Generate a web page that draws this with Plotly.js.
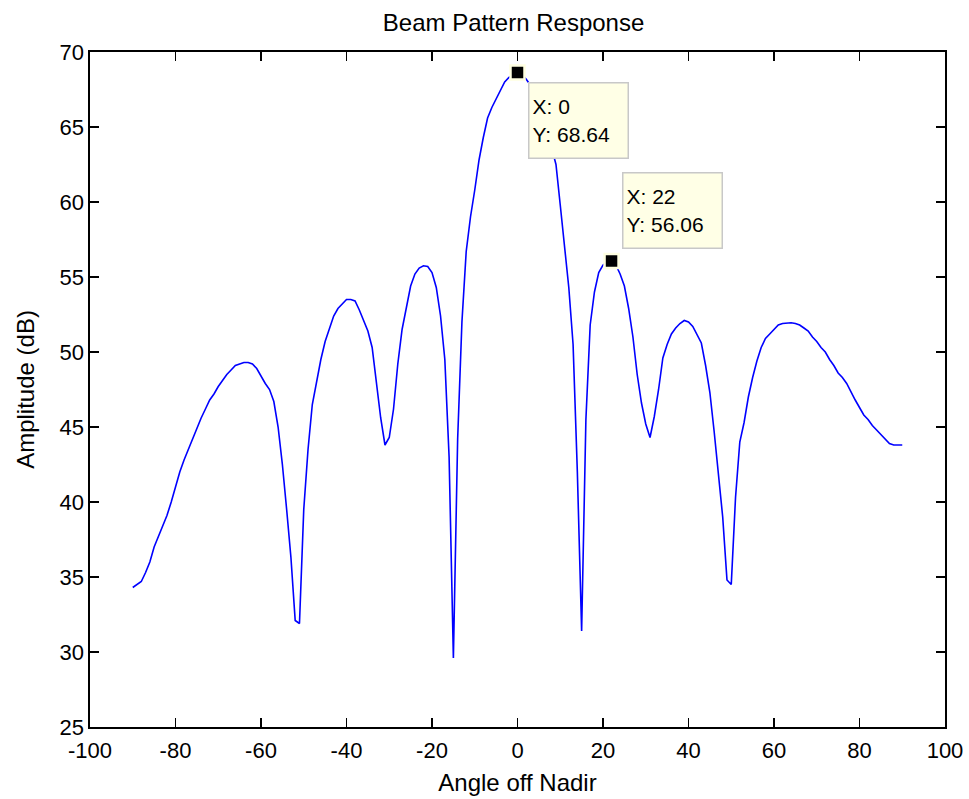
<!DOCTYPE html>
<html>
<head>
<meta charset="utf-8">
<script src="https://cdn.plot.ly/plotly-3.0.1.min.js"></script>
<style>html,body{margin:0;padding:0;background:#fff;}#chart{width:969px;height:799px;}</style>
</head>
<body>
<div id="chart"></div>
<script>
// Angle off nadir (degrees), sampled every degree
var angles = [];
for (var a = -90; a <= 90; a++) angles.push(a);

// Amplitude (dB), one value per degree from -90 to 90
var amplitude = [
  34.3, 34.5, 34.7, 35.3, 36.0, 37.0, 37.7, 38.4, 39.1, 40.0,   // -90..-81
  41.0, 42.0, 42.8, 43.5, 44.3, 45.0, 45.6, 46.2, 46.8, 47.2,   // -80..-71
  47.7, 48.1, 48.5, 48.8, 49.1, 49.2, 49.3, 49.3, 49.2, 48.9,   // -70..-61
  48.4, 47.9, 47.5, 46.7, 45.0, 42.5, 39.5, 36.3, 32.1, 31.9,   // -60..-51
  39.5, 43.5, 46.5, 48.0, 49.5, 50.7, 51.5, 52.4, 52.9, 53.2,   // -50..-41
  53.5, 53.5, 53.4, 52.8, 52.1, 51.4, 50.3, 48.0, 45.6, 43.8,   // -40..-31
  44.3, 46.2, 49.2, 51.5, 53.0, 54.4, 55.2, 55.6, 55.75, 55.7,  // -30..-21
  55.3, 54.3, 52.4, 49.5, 43.0, 29.6, 44.2, 52.0, 56.7, 59.0,   // -20..-11
  60.8, 62.8, 64.3, 65.6, 66.3, 66.9, 67.4, 68.0, 68.3, 68.5,   // -10..-1
  68.64,                                                        // 0
  68.5, 68.2, 67.8, 67.2, 66.5, 65.6, 64.7, 63.6, 62.5, 59.8,   // 1..10
  57.0, 54.3, 50.5, 42.0, 31.4, 45.5, 51.8, 54.0, 55.3, 55.8,   // 11..20
  56.0, 56.06, 55.8, 55.2, 54.4, 52.9, 51.0, 48.5, 46.6, 45.2,  // 21..30
  44.3, 45.7, 47.5, 49.6, 50.5, 51.2, 51.6, 51.9, 52.1, 52.0,   // 31..40
  51.7, 51.2, 50.6, 49.1, 47.3, 44.7, 41.8, 39.0, 34.8, 34.5,   // 41..50
  40.3, 44.0, 45.3, 47.0, 48.3, 49.4, 50.3, 50.9, 51.2, 51.5,   // 51..60
  51.8, 51.9, 51.95, 51.95, 51.9, 51.8, 51.6, 51.4, 51.0, 50.7, // 61..70
  50.3, 50.0, 49.5, 49.1, 48.6, 48.3, 47.9, 47.3, 46.8, 46.3,   // 71..80
  45.8, 45.5, 45.1, 44.8, 44.5, 44.2, 43.9, 43.8, 43.8, 43.8    // 81..90
];

// Axis ticks (labels use a plain hyphen as in the reference)
var xTickVals = [-100, -80, -60, -40, -20, 0, 20, 40, 60, 80, 100];
var xTickText = ['-100', '-80', '-60', '-40', '-20', '0', '20', '40', '60', '80', '100'];
var yTickVals = [25, 30, 35, 40, 45, 50, 55, 60, 65, 70];
var yTickText = ['25', '30', '35', '40', '45', '50', '55', '60', '65', '70'];

// Data tips
var tipX = [0, 22];
var tipY = [68.64, 56.06];
var tipText = ['X: 0<br>Y: 68.64', 'X: 22<br>Y: 56.06'];

var font = 'Liberation Sans, Arial, sans-serif';

var traces = [
  {
    x: angles, y: amplitude, type: 'scatter', mode: 'lines',
    line: {color: '#0000FF', width: 1.6}, hoverinfo: 'skip', showlegend: false
  },
  {
    x: tipX, y: tipY, type: 'scatter', mode: 'markers',
    marker: {symbol: 'square', size: 14, color: '#000000', line: {color: '#FFFFE1', width: 2.5}},
    hoverinfo: 'skip', showlegend: false
  }
];

var annotations = [
  {
    x: tipX[0], y: tipY[0], xref: 'x', yref: 'y', text: tipText[0], showarrow: false,
    xanchor: 'left', yanchor: 'top', xshift: 10, yshift: -10, align: 'left',
    width: 92, height: 68, valign: 'middle',
    bgcolor: '#FFFFE6', bordercolor: '#C8C8C8', borderwidth: 1.5, borderpad: 3,
    font: {family: font, size: 21, color: '#000'}
  },
  {
    x: tipX[1], y: tipY[1], xref: 'x', yref: 'y', text: tipText[1], showarrow: false,
    xanchor: 'left', yanchor: 'bottom', xshift: 10, yshift: 12, align: 'left',
    width: 92, height: 68, valign: 'middle',
    bgcolor: '#FFFFE6', bordercolor: '#C8C8C8', borderwidth: 1.5, borderpad: 3,
    font: {family: font, size: 21, color: '#000'}
  }
];

var layout = {
  width: 969, height: 799,
  paper_bgcolor: '#FFFFFF', plot_bgcolor: '#FFFFFF',
  margin: {l: 90, r: 24, t: 52, b: 72},
  font: {family: font, size: 24, color: '#000'},
  title: {text: 'Beam Pattern Response', x: 0.53, xanchor: 'center', y: 0.972, yanchor: 'middle',
          font: {family: font, size: 24, color: '#000'}},
  xaxis: {
    range: [-100, 100], tickmode: 'array', tickvals: xTickVals, ticktext: xTickText,
    showgrid: false, zeroline: false, showline: true, linecolor: '#000', linewidth: 1.6,
    mirror: 'ticks', ticks: 'inside', ticklen: 9, tickcolor: '#000', tickwidth: 1.4,
    ticklabelstandoff: 3,
    tickfont: {family: font, size: 22, color: '#000'},
    title: {text: 'Angle off Nadir', font: {family: font, size: 24, color: '#000'}, standoff: 12}
  },
  yaxis: {
    range: [25, 70], tickmode: 'array', tickvals: yTickVals, ticktext: yTickText,
    showgrid: false, zeroline: false, showline: true, linecolor: '#000', linewidth: 1.6,
    mirror: 'ticks', ticks: 'inside', ticklen: 9, tickcolor: '#000', tickwidth: 1.4,
    tickfont: {family: font, size: 22, color: '#000'},
    title: {text: 'Amplitude (dB)', font: {family: font, size: 24, color: '#000'}, standoff: 18}
  },
  annotations: annotations,
  showlegend: false
};

Plotly.newPlot('chart', traces, layout, {staticPlot: true, displayModeBar: false});
</script>
</body>
</html>
